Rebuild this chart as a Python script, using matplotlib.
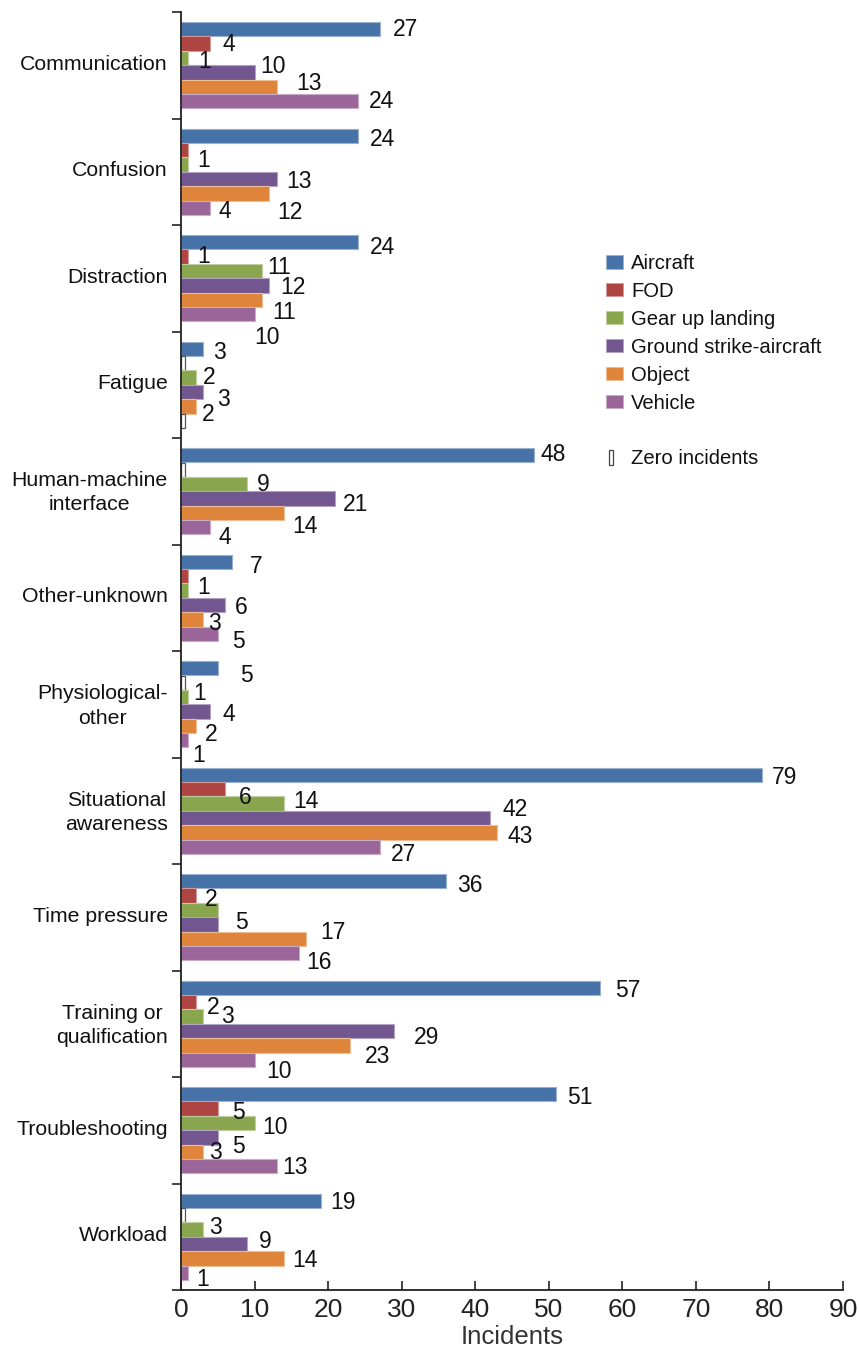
import numpy as np
import matplotlib
matplotlib.use("Agg")
import matplotlib.pyplot as plt
from matplotlib.patches import Patch, Rectangle
from matplotlib.legend_handler import HandlerPatch
from matplotlib.colors import to_rgb
from matplotlib.transforms import ScaledTranslation

plt.rcParams['font.family'] = ['Liberation Sans', 'DejaVu Sans']

categories = [
    "Communication", "Confusion", "Distraction", "Fatigue",
    "Human-machine\ninterface", "Other-unknown", "Physiological-\nother",
    "Situational\nawareness", "Time pressure", "Training or\nqualification",
    "Troubleshooting", "Workload",
]
series_names = ["Aircraft", "FOD", "Gear up landing", "Ground strike-aircraft",
                "Object", "Vehicle"]
series_colors = ["#4672A8", "#AE4542", "#89A64E", "#72568F", "#DF853B", "#9A6699"]

aircraft = [27, 24, 24, 3, 48, 7, 5, 79, 36, 57, 51, 19]
fod = [4, 1, 1, 0, 0, 1, 0, 6, 2, 2, 5, 0]
gear_up_landing = [1, 1, 11, 2, 9, 1, 1, 14, 5, 3, 10, 3]
ground_strike = [10, 13, 12, 3, 21, 6, 4, 42, 5, 29, 5, 9]
object_ = [13, 12, 11, 2, 14, 3, 2, 43, 17, 23, 3, 14]
vehicle = [24, 4, 10, 0, 4, 5, 1, 27, 16, 10, 13, 1]

x_ticks = [0, 10, 20, 30, 40, 50, 60, 70, 80, 90]

# per-label nudges (pixels right of bar end / pixels below bar centre)
label_dx = [
    [13, 12, 10, 6, 20, 11],
    [12, 9, 9, 10, 8, 8],
    [12, 9, 5, 11, 10, 0],
    [10, 0, 7, 14, 6, 0],
    [6, 0, 10, 7, 8, 8],
    [17, 9, 9, 10, 5, 14],
    [22, 0, 5, 12, 9, 4],
    [10, 14, 9, 13, 10, 11],
    [11, 9, 17, 17, 14, 8],
    [15, 11, 18, 20, 15, 12],
    [11, 14, 8, 14, 6, 6],
    [9, 0, 6, 12, 8, 8],
]
label_dy = [
    [0, 1, 3, -6, -3, 0],
    [4, 10, -5, 3, 19, 4],
    [5, 0, -4, 2, 13, 23],
    [4, 0, 0, 8, 8, 0],
    [-1, 0, 0, 6, 14, 10],
    [5, 11, -4, 3, 4, 8],
    [7, 0, -4, 3, 9, 15],
    [3, 8, -2, -8, 4, 8],
    [4, 4, 12, -3, -6, 9],
    [3, 5, 0, 7, 11, 12],
    [3, 4, 4, 9, 1, 1],
    [2, 0, -2, -2, 2, 7],
]

series_values = [aircraft, fod, gear_up_landing, ground_strike, object_, vehicle]


def lighten(c, f=0.45):
    r, g, b = to_rgb(c)
    return (r + (1 - r) * f, g + (1 - g) * f, b + (1 - b) * f)


fig = plt.figure(figsize=(8.59, 13.53), dpi=100)
ax = fig.add_axes([181 / 859, 1 - 1290 / 1353, 662 / 859, 1278 / 1353])

n_cat = len(categories)
n_ser = len(series_names)
bar_h = 0.135
ypos = np.arange(n_cat)
zero_w = 0.55
px_per_cat = 1278 / n_cat

placed = []
for s, (name, vals, col) in enumerate(zip(series_names, series_values, series_colors)):
    offs = (s - (n_ser - 1) / 2) * bar_h
    vals = np.asarray(vals, dtype=float)
    yy = ypos + offs
    nz = vals > 0
    ax.barh(yy[nz], vals[nz], height=bar_h, color=col,
            edgecolor=lighten(col), linewidth=0.8, zorder=2)
    # empty outline boxes mark zero incidents
    if (~nz).any():
        ax.barh(yy[~nz], np.full((~nz).sum(), zero_w), height=bar_h * 0.95,
                color="white", edgecolor="#555555", linewidth=0.9, zorder=2)
    for i in np.where(nz)[0]:
        # neighbouring bars with equal values share one label
        py = offs * px_per_cat + label_dy[i][s]
        px = label_dx[i][s]
        dup = any(c == i and v == int(vals[i]) and abs(y - py) < 3 and abs(x - px) < 3
                  for c, v, y, x in placed)
        if dup:
            continue
        placed.append((i, int(vals[i]), py, px))
        ax.annotate(f"{int(vals[i])}", xy=(vals[i], yy[i]),
                    xytext=(px, -label_dy[i][s]),
                    textcoords="offset pixels", ha="left", va="center",
                    fontsize=16.5, color="#111111", zorder=3)

ax.set_xlim(0, 90)
ax.set_ylim(n_cat - 0.5, -0.5)
ax.set_xticks(x_ticks)
ax.set_xticklabels([str(t) for t in x_ticks], fontsize=19, color="#222222")
ax.tick_params(axis="x", direction="in", length=6.5, width=1.2, pad=6,
               color="#222222")

ax.set_yticks(ypos)
ax.set_yticklabels(categories, fontsize=15.3, color="#111111",
                   multialignment="center", linespacing=1.35)
ax.tick_params(axis="y", which="major", length=0, pad=9.5)
ax.set_yticks(np.arange(-0.5, n_cat), minor=True)
ax.tick_params(axis="y", which="minor", direction="out", length=6.5,
               width=1.2, color="#222222")
lift = ScaledTranslation(0, 3 / 100, fig.dpi_scale_trans)
for lab in ax.get_yticklabels():
    lab.set_transform(lab.get_transform() + lift)

for sp in ("top", "right"):
    ax.spines[sp].set_visible(False)
for sp in ("left", "bottom"):
    ax.spines[sp].set_linewidth(1.3)
    ax.spines[sp].set_color("#222222")

ax.set_xlabel("Incidents", fontsize=18.5, color="#333333", labelpad=2)


class NarrowBoxHandler(HandlerPatch):
    def create_artists(self, legend, orig_handle, xdescent, ydescent,
                       width, height, fontsize, trans):
        w = width * 0.24
        h = height * 1.15
        p = Rectangle((-xdescent + width * 0.15, -ydescent - (h - height) / 2), w, h,
                      facecolor="white", edgecolor="#444444", linewidth=0.9,
                      transform=trans)
        return [p]


handles = [Patch(facecolor=c, edgecolor=lighten(c), linewidth=0.6)
           for c in series_colors]
labels = list(series_names)
blank = Patch(facecolor="none", edgecolor="none")
zero_handle = Rectangle((0, 0), 1, 1)
handles += [blank, zero_handle]
labels += [" ", "Zero incidents"]

leg = fig.legend(handles, labels, loc="upper left",
                 bbox_to_anchor=(606 / 859, 1 - 254 / 1353),
                 frameon=False, fontsize=14.6, handlelength=0.85,
                 handleheight=0.64, handletextpad=0.4, labelspacing=0.44,
                 borderpad=0, borderaxespad=0,
                 handler_map={zero_handle: NarrowBoxHandler()})
for t in leg.get_texts():
    t.set_color("#111111")

fig.savefig("out.png", dpi=100)
